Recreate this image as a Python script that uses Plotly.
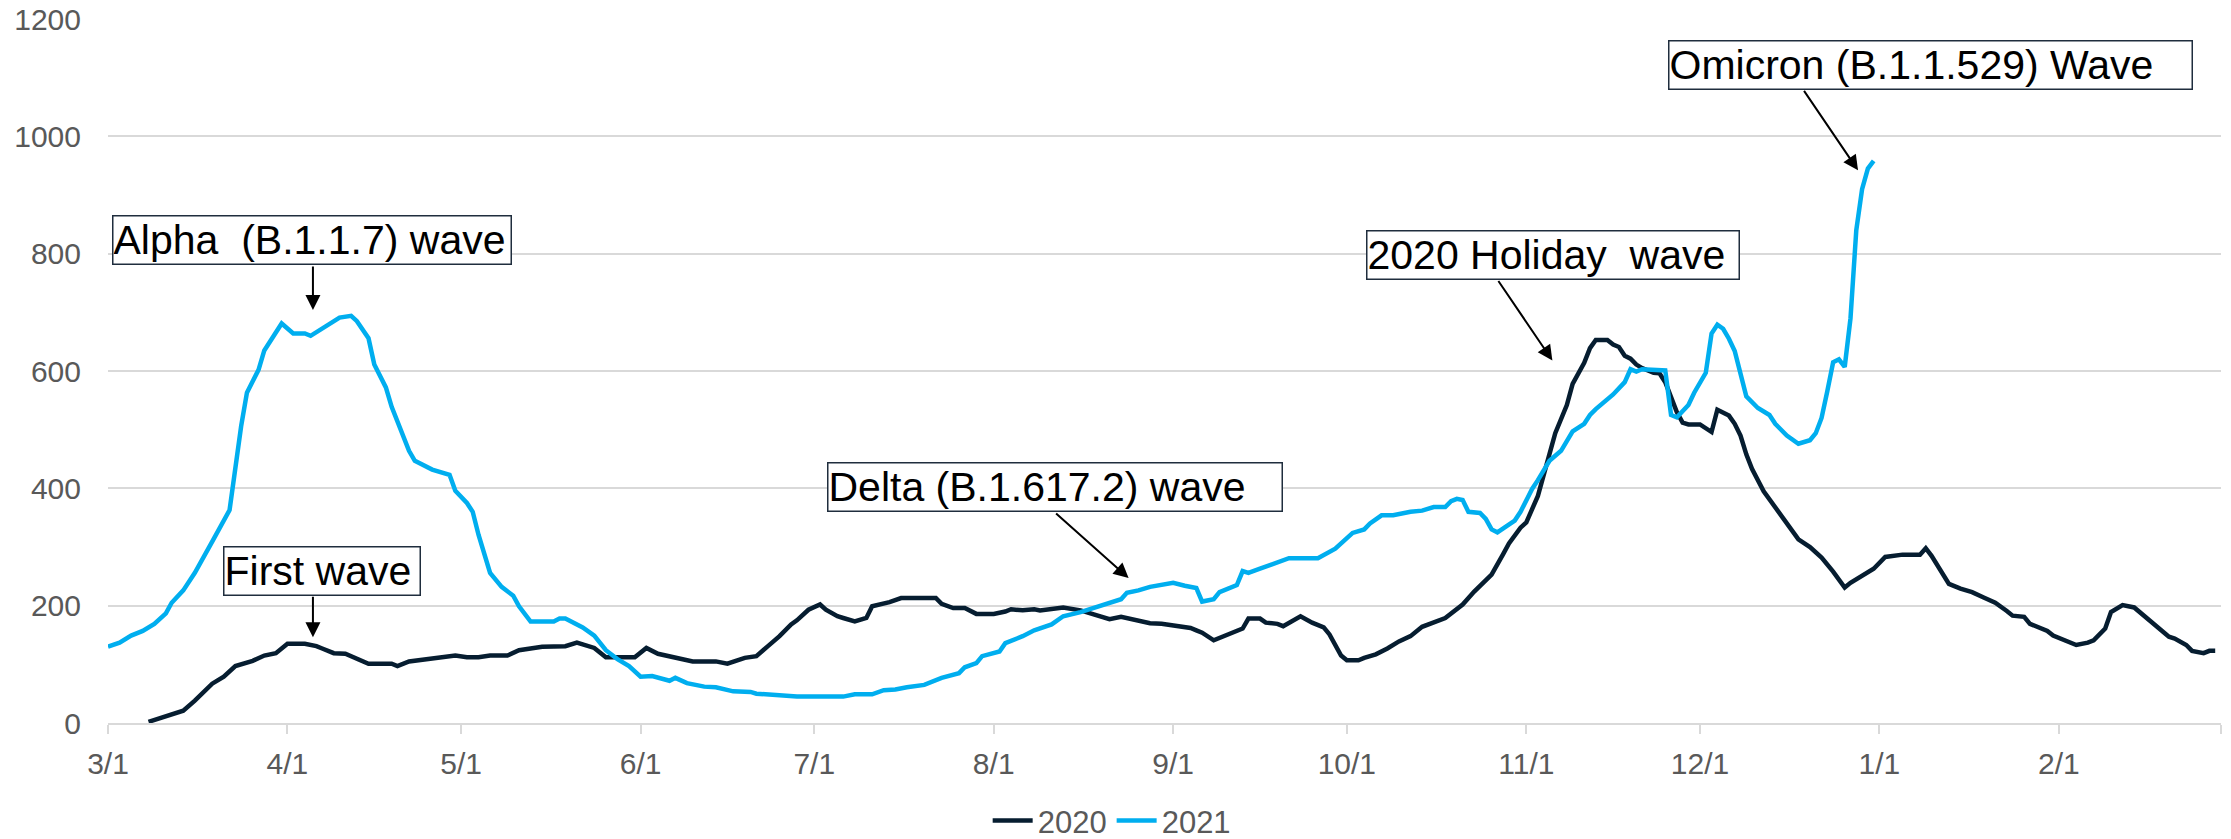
import pandas as pd
import plotly.graph_objects as go

# ---------------- data (days after March 1; 2021 series shifted onto the same Mar-Feb axis) -------------
days_2020 = [7, 9, 13, 15, 16, 18, 20, 22, 25, 27, 29, 31, 34, 36, 37, 39, 41, 45, 49, 50, 52, 55, 60, 62,
             64, 66, 69, 71, 75, 79, 81, 84, 86, 91, 93, 95, 98, 101, 105, 107, 110, 112, 114, 116, 118,
             119, 121, 123, 124, 126, 127, 129, 131, 132, 135, 137, 143, 144, 146, 148, 150, 153, 155,
             156, 158, 160, 161, 163, 165, 168, 171, 173, 175, 178, 180, 182, 185, 187, 188, 189, 191,
             193, 196, 197, 199, 200, 202, 203, 205, 206, 208, 210, 211, 213, 214, 216, 217, 219, 221,
             223, 225, 227, 231, 233, 234, 236, 239, 241, 242, 244, 245, 247, 249, 250, 252, 253, 255,
             256, 257, 259, 260, 261, 262, 263, 264, 265, 267, 268, 269, 271, 272, 273, 275, 277, 278,
             279, 280, 281, 282, 283, 284, 286, 288, 290, 292, 294, 296, 298, 299, 300, 301, 303, 305,
             307, 310, 313, 314, 315, 318, 320, 322, 324, 326, 328, 329, 331, 332, 335, 336, 340, 342,
             343, 345, 346, 348, 350, 353, 354, 356, 357, 359, 360, 362, 363, 364]
vals_2020 = [2, 8, 21, 38, 47, 67, 79, 97, 106, 115, 119, 135, 135, 131, 127, 119, 118, 101, 101, 97, 105,
             109, 115, 112, 112, 115, 115, 124, 130, 131, 137, 128, 112, 112, 128, 118, 111, 105, 105, 101,
             111, 114, 131, 148, 168, 175, 193, 202, 193, 182, 179, 173, 179, 199, 206, 213, 213, 203, 196,
             196, 186, 186, 190, 194, 192, 194, 192, 194, 197, 192, 183, 177, 181, 175, 170, 169, 165, 162,
             158, 154, 141, 149, 161, 178, 178, 171, 169, 165, 175, 182, 171, 163, 151, 115, 107, 107, 111,
             117, 127, 139, 148, 164, 179, 195, 202, 224, 253, 288, 306, 333, 342, 387, 459, 494, 542, 578,
             614, 639, 653, 653, 645, 641, 626, 621, 611, 605, 597, 596, 581, 530, 512, 509, 509, 496, 534,
             530, 524, 510, 490, 458, 433, 395, 368, 340, 313, 300, 282, 258, 244, 231, 239, 252, 263, 283,
             287, 287, 298, 285, 237, 229, 223, 214, 205, 191, 183, 181, 169, 157, 149, 133, 137, 141, 161,
             189, 201, 197, 173, 165, 147, 144, 133, 123, 119, 123, 123]

days_2021 = [0, 2, 4, 6, 8, 10, 11, 13, 15, 16, 18, 21, 22, 23, 24, 26, 27, 29, 30, 32, 34, 35, 37, 40,
             42, 43, 45, 46, 48, 49, 52, 53, 56, 59, 60, 62, 63, 64, 66, 68, 70, 71, 73, 77, 78, 79, 82,
             84, 86, 88, 90, 92, 94, 97, 98, 100, 103, 105, 108, 111, 112, 115, 119, 127, 129, 132, 134,
             136, 138, 141, 144, 147, 148, 150, 151, 154, 155, 158, 160, 163, 165, 168, 171, 175, 176,
             178, 180, 183, 184, 186, 188, 189, 191, 192, 195, 196, 197, 199, 202, 204, 209, 212, 215,
             217, 218, 220, 222, 225, 227, 229, 231, 232, 233, 234, 235, 237, 238, 239, 240, 243, 244,
             246, 247, 249, 251, 253, 255, 256, 257, 258, 260, 262, 263, 264, 265, 269, 270, 271, 273,
             274, 276, 277, 278, 279, 280, 281, 282, 283, 285, 287, 288, 290, 292, 294, 295, 296, 297,
             298, 299, 300, 301, 302, 303, 304, 305]
vals_2021 = [130, 137, 149, 157, 169, 187, 205, 226, 256, 273, 309, 363, 435, 506, 563, 602, 635, 664, 681,
             664, 664, 660, 672, 691, 694, 685, 656, 611, 572, 539, 464, 447, 432, 423, 396, 375, 360, 321,
             256, 232, 217, 199, 173, 173, 178, 178, 163, 149, 124, 109, 97, 79, 80, 72, 77, 68, 62, 61, 54,
             53, 50, 48, 45, 45, 49, 49, 56, 57, 61, 65, 77, 85, 95, 102, 114, 122, 136, 148, 158, 168, 182,
             189, 199, 211, 222, 226, 232, 236, 239, 234, 230, 207, 211, 223, 235, 259, 256, 263, 273, 281,
             281, 297, 324, 330, 340, 354, 354, 360, 362, 368, 368, 378, 382, 380, 360, 358, 348, 330, 325,
             345, 360, 399, 414, 447, 464, 497, 510, 525, 535, 543, 560, 581, 603, 599, 603, 601, 525, 521,
             542, 563, 597, 664, 679, 672, 655, 634, 598, 557, 537, 525, 510, 490, 476, 482, 494, 520, 566,
             615, 620, 607, 690, 840, 910, 945, 958]

series_names = ["2020", "2021"]
series_colors = ["#061D30", "#00AEEF"]

y_ticks = [0, 200, 400, 600, 800, 1000, 1200]
x_tick_days = [0, 31, 61, 92, 122, 153, 184, 214, 245, 275, 306, 337]
x_tick_labels = ["3/1", "4/1", "5/1", "6/1", "7/1", "8/1", "9/1", "10/1", "11/1", "12/1", "1/1", "2/1"]

# annotation boxes: text, centre (day, value), box width in px
box_texts = ["Alpha\u00a0 (B.1.1.7) wave", "First wave", "Delta (B.1.617.2) wave",
             "2020 Holiday\u00a0 wave", "Omicron (B.1.1.529) Wave"]
box_days = [35.2, 36.9, 163.5, 249.6, 314.8]
box_vals = [822.8, 259.4, 401.8, 796.9, 1121.6]
box_widths = [397, 195, 453, 371, 522]
# arrows: tip (day, value), tail offset in px
arrow_days = [35.4, 35.4, 176.3, 249.5, 302.3]
arrow_vals = [704, 146, 247, 618, 942]
arrow_ax = [0, 0, -74, -55, -55]
arrow_ay = [-45, -42, -66, -81, -81]

base = pd.Timestamp("2020-03-01")


def to_date(d):
    return base + pd.Timedelta(days=d)


fig = go.Figure()
for name, color, dd, vv in [(series_names[0], series_colors[0], days_2020, vals_2020),
                            (series_names[1], series_colors[1], days_2021, vals_2021)]:
    fig.add_trace(go.Scatter(x=[to_date(d) for d in dd], y=vv, mode="lines", name=name,
                             line=dict(color=color, width=4.5)))

font_family = "Liberation Sans, Arial, sans-serif"

for t, d, v, w in zip(box_texts, box_days, box_vals, box_widths):
    fig.add_annotation(x=to_date(d), y=v, xref="x", yref="y", text=t, showarrow=False,
                       font=dict(family=font_family, size=41, color="#000000"),
                       bgcolor="#FFFFFF", bordercolor="#1F2D3D", borderwidth=1.5, borderpad=0,
                       width=w, height=47, align="left", valign="middle")

for d, v, ax, ay in zip(arrow_days, arrow_vals, arrow_ax, arrow_ay):
    fig.add_annotation(x=to_date(d), y=v, xref="x", yref="y", text="", showarrow=True,
                       ax=ax, ay=ay, arrowhead=2, arrowsize=1.5, arrowwidth=2,
                       arrowcolor="#000000", standoff=0)

fig.update_layout(
    width=2231, height=839,
    margin=dict(l=108, r=10, t=19, b=116, autoexpand=False),
    paper_bgcolor="#FFFFFF", plot_bgcolor="#FFFFFF",
    font=dict(family=font_family, size=30, color="#595959"),
    showlegend=True,
    legend=dict(orientation="h", x=0.475, xanchor="center", y=-0.139, yanchor="middle",
                font=dict(size=31, color="#595959"), itemwidth=40, tracegroupgap=0),
)
fig.update_xaxes(
    type="date", range=[base, to_date(365)], automargin=False,
    tickvals=[to_date(d) for d in x_tick_days], ticktext=x_tick_labels,
    showgrid=False, showline=True, linecolor="#D9D9D9", linewidth=2,
    ticks="outside", ticklen=9, tickwidth=2, tickcolor="#D9D9D9", ticklabelstandoff=4,
    tickfont=dict(size=30, color="#595959"),
    minor=dict(tickvals=[to_date(365)], ticks="outside", ticklen=9, tickwidth=2, tickcolor="#D9D9D9",
               showgrid=False),
    zeroline=False,
)
fig.update_yaxes(
    range=[0, 1200], tickvals=y_ticks, showgrid=True, gridcolor="#D9D9D9", gridwidth=2,
    zeroline=False, showline=False, ticks="", ticklabelstandoff=26, automargin=False,
    tickfont=dict(size=30, color="#595959"),
)

fig.write_html("out.html")
